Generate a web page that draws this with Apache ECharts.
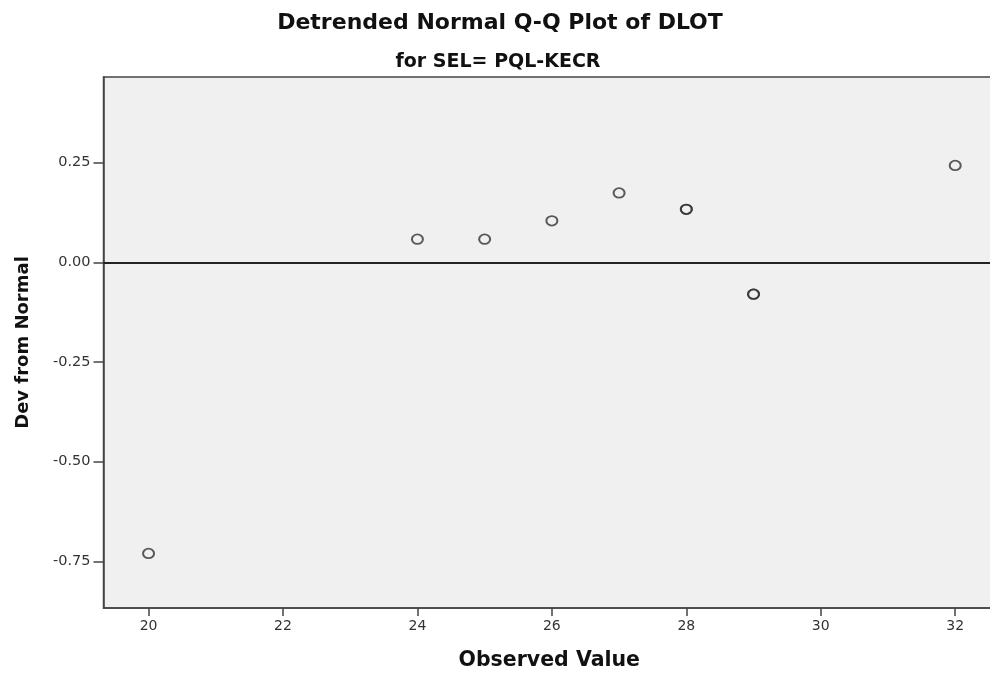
<!DOCTYPE html>
<html>
<head>
<meta charset="utf-8">
<script src="https://cdn.jsdelivr.net/npm/echarts@6/dist/echarts.min.js"></script>
<style>
html,body{margin:0;padding:0;background:#fff;}
#c{width:990px;height:673px;}
</style>
</head>
<body>
<div id="c"></div>
<script>
// Data
var observedValues = [20, 24, 25, 26, 27, 28, 28, 29, 29, 32];
var devFromNormal = [-0.730, 0.058, 0.058, 0.104, 0.174, 0.133, 0.133, -0.080, -0.080, 0.243];
var xTickValues = [20, 22, 24, 26, 28, 30, 32];
var yTickValues = [-0.75, -0.50, -0.25, 0.00, 0.25];
var titleText = 'Detrended Normal Q-Q Plot of DLOT';
var subtitleText = 'for SEL= PQL-KECR';

var points = observedValues.map(function (x, i) { return [x, devFromNormal[i]]; });

var chart = echarts.init(document.getElementById('c'), null, {renderer: 'canvas'});
var fontFam = 'DejaVu Sans';
chart.setOption({
  animation: false,
  backgroundColor: '#ffffff',
  graphic: [
    {type: 'text', x: 500, y: 23, silent: true,
     style: {text: titleText, textAlign: 'center', textVerticalAlign: 'middle',
       fontFamily: fontFam, fontWeight: 'bold', fontSize: 22, fill: '#111'}},
    {type: 'text', x: 498, y: 62.5, silent: true,
     style: {text: subtitleText, textAlign: 'center', textVerticalAlign: 'middle',
       fontFamily: fontFam, fontWeight: 'bold', fontSize: 19, fill: '#111'}}
  ],
  grid: {
    left: 103.5, top: 77, width: 891.5, height: 531,
    outerBoundsMode: 'none', containLabel: false,
    show: true, backgroundColor: '#f0f0f0', borderColor: '#444', borderWidth: 1.5
  },
  xAxis: {
    type: 'value', min: 19.33, max: 32.592,
    name: 'Observed Value', nameLocation: 'middle', nameGap: 42,
    nameTextStyle: {fontFamily: fontFam, fontWeight: 'bold', fontSize: 20.5, color: '#111'},
    axisLine: {show: true, onZero: false, lineStyle: {color: '#444', width: 1.5}},
    axisTick: {show: true, length: 8, customValues: xTickValues, lineStyle: {color: '#444', width: 1.5}},
    axisLabel: {customValues: xTickValues, margin: 11, fontFamily: fontFam, fontSize: 14, color: '#333'},
    splitLine: {show: false}
  },
  yAxis: {
    type: 'value', min: -0.8668, max: 0.4647,
    name: 'Dev from Normal', nameLocation: 'middle', nameGap: 71, nameRotate: 90,
    nameTextStyle: {fontFamily: fontFam, fontWeight: 'bold', fontSize: 18, color: '#111'},
    axisLine: {show: true, onZero: false, lineStyle: {color: '#444', width: 1.5}},
    axisTick: {show: true, length: 10, customValues: yTickValues, lineStyle: {color: '#444', width: 1.5}},
    axisLabel: {customValues: yTickValues, margin: 13, fontFamily: fontFam, fontSize: 14.5, color: '#333',
      formatter: function (v) { return v.toFixed(2); }},
    splitLine: {show: false}
  },
  series: [{
    type: 'scatter',
    data: points,
    symbol: 'circle',
    symbolSize: [11, 9.5],
    itemStyle: {color: 'rgba(0,0,0,0)', borderColor: '#333', borderWidth: 1.9},
    emphasis: {disabled: true},
    silent: true,
    markLine: {
      silent: true, symbol: 'none', label: {show: false},
      lineStyle: {color: '#222', width: 2, type: 'solid'},
      data: [{yAxis: 0}]
    }
  }]
});
</script>
</body>
</html>
